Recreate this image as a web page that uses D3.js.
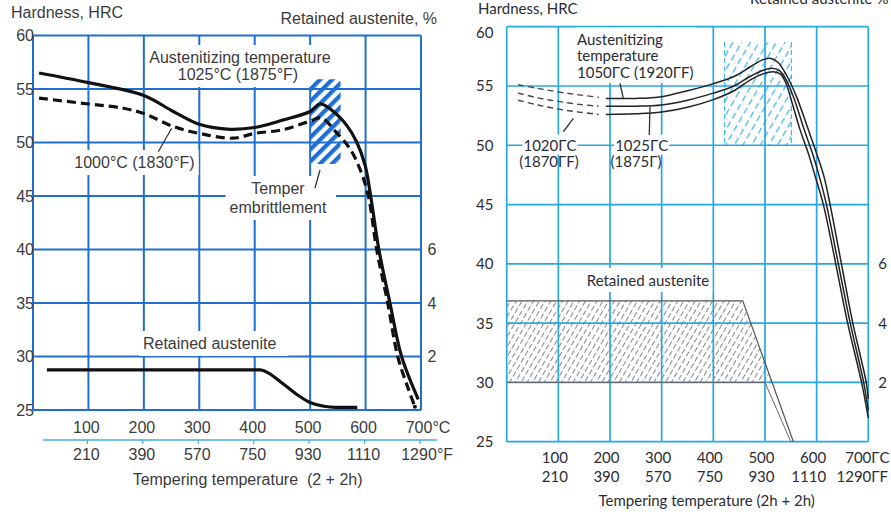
<!DOCTYPE html>
<html><head><meta charset="utf-8">
<script src="https://cdn.jsdelivr.net/npm/d3@7"></script>
<style>body{margin:0;background:#fff}svg{display:block}</style>
</head><body>
<svg id="c" width="891" height="515"></svg>
<script>
// ---------------- DATA ----------------
const tempTicksC = [100, 200, 300, 400, 500, 600, 700];
const tempTicksF = [210, 390, 570, 750, 930, 1110, 1290];
const gridTemps = [0, 100, 200, 300, 400, 500, 600, 700];
const hrcTicks = [25, 30, 35, 40, 45, 50, 55, 60];
const raTicks = [2, 4, 6];

// Left chart: hardness after austenitizing at 1025 °C (solid) and 1000 °C (dashed)
const left1025 = [[11,56.5],[100,55.6],[200,54.4],[253,52.9],[300,51.7],[350,51.25],[400,51.4],[451,52.1],[500,52.9],[518,53.6],[542,52.9],[566,51.6],[584,50.05],[599,47.9],[608,45.4],[624,40],[644,35],[665,30],[695,26.0]];
const left1000 = [[11,54.15],[100,53.6],[163,53.2],[200,52.7],[253,51.5],[300,50.85],[360,50.4],[400,50.85],[451,51.2],[500,52.0],[520,52.3],[548,50.9],[572,49.4],[590,47.5],[605,45],[620,40],[640,35],[658,30],[677,27],[689,25.3]];
const leftRetained = [[25,1.5],[100,1.5],[200,1.5],[300,1.5],[410,1.5],[425,1.38],[450,1.0],[478,0.55],[500,0.28],[525,0.14],[545,0.1],[585,0.1]];
const leftEmbrittle = {t0:500, t1:555, h0:48.0, h1:55.9};

// Right chart: hardness for three austenitizing temperatures
const right1050Dash = [[22,55.1],[60,54.8],[100,54.5],[140,54.25],[178,54.05]];
const right1025Dash = [[22,54.4],[60,54.0],[100,53.7],[140,53.45],[178,53.3]];
const right1020Dash = [[22,53.8],[60,53.4],[100,53.05],[140,52.8],[178,52.6]];
const right1050 = [[192,53.95],[250,53.95],[300,54.1],[350,54.6],[400,55.2],[440,55.8],[471,56.6],[495,57.2],[509,57.33],[525,57.0],[543,55.8],[561,54.1],[584,51.3],[600,49.3],[614,47.4],[626,45],[648,40],[670,35],[696,30],[700,28.6]];
const right1025 = [[192,53.3],[250,53.3],[300,53.4],[350,53.8],[400,54.4],[440,55.0],[471,55.8],[495,56.3],[513,56.5],[528,56.3],[540,55.6],[555,54.1],[576,51.3],[592,49.3],[605,47.4],[619,45],[642,40],[665,35],[691,30],[700,27.6]];
const right1020 = [[192,52.6],[250,52.65],[300,52.8],[350,53.2],[400,53.85],[440,54.6],[471,55.5],[495,56.0],[516,56.2],[530,56.0],[540,55.3],[549,54.1],[568,51.3],[584,49.3],[597,47.4],[613,45],[637,40],[660,35],[687,30],[700,27.0]];
const rightEmbrittle = {t0:422, t1:551, h0:50, h1:58.7};
const rightRetainedTop = [[0,4.75],[457,4.75],[555,0]];
const rightRetainedBottom = [[0,2],[500,2],[550,0]];

// ---------------- SETUP ----------------
const svg = d3.select('#c');
const FL = "'Liberation Sans', Arial, Helvetica, sans-serif";
const FR = "Lato, 'Open Sans', sans-serif";
const TCL = '#3b3b3b', TCR = '#2c2c34';
const blueL = '#1f6fd0', cyanR = '#27a8e0', axisCyan = '#3eaee6';

const xL = d3.scaleLinear([0,700],[33,421]);
const yL = d3.scaleLinear([25,60],[410,35.5]);
const raL = d3.scaleLinear([0,14],[410,35.5]);
const xR = d3.scaleLinear([0,700],[506.7,868.3]);
const yR = d3.scaleLinear([25,60],[441.7,26.7]);
const raR = d3.scaleLinear([0,14],[441.7,26.7]);

const defs = svg.append('defs');
const pL = defs.append('pattern').attr('id','hatchL').attr('patternUnits','userSpaceOnUse')
  .attr('width',8.5).attr('height',8.5).attr('patternTransform','rotate(45)');
pL.append('rect').attr('width',4.3).attr('height',8.5).attr('fill',blueL);
const pC = defs.append('pattern').attr('id','hatchC').attr('patternUnits','userSpaceOnUse')
  .attr('width',7.5).attr('height',10).attr('patternTransform','rotate(30)');
pC.append('line').attr('x1',3.5).attr('x2',3.5).attr('y1',0).attr('y2',10)
  .attr('stroke',cyanR).attr('stroke-width',1.1).attr('stroke-dasharray','6.5,3.5');
const pG = defs.append('pattern').attr('id','hatchG').attr('patternUnits','userSpaceOnUse')
  .attr('width',5).attr('height',8).attr('patternTransform','rotate(30)');
pG.append('line').attr('x1',2.5).attr('x2',2.5).attr('y1',0).attr('y2',8)
  .attr('stroke','#666').attr('stroke-width',0.8).attr('stroke-dasharray','5.5,2.5');

function txt(g, x, y, s, o = {}) {
  return g.append('text').attr('x', x).attr('y', y).text(s)
    .attr('font-family', o.ff || FL).attr('font-size', o.fs || 16)
    .attr('fill', o.fill || TCL).attr('text-anchor', o.anchor || 'start')
    .attr('font-weight', o.fw || 'normal');
}
function bgBox(layer, nodes, pad, extra = {}) {
  let x0 = 1e9, y0 = 1e9, x1 = -1e9, y1 = -1e9;
  nodes.forEach(n => { const b = n.node().getBBox(); x0 = Math.min(x0,b.x); y0 = Math.min(y0,b.y); x1 = Math.max(x1,b.x+b.width); y1 = Math.max(y1,b.y+b.height); });
  layer.append('rect').attr('x', x0 - pad - (extra.l||0)).attr('y', y0 - pad + (extra.t||0))
    .attr('width', x1 - x0 + 2*pad + (extra.l||0) + (extra.r||0)).attr('height', y1 - y0 + 2*pad - (extra.t||0) + (extra.b||0))
    .attr('fill', '#fff');
}

// ================= LEFT CHART =================
const gL = svg.append('g');
const gridL = gL.append('g'), bgL = gL.append('g'), markL = gL.append('g'), textL = gL.append('g');

gridL.selectAll('line.v').data(gridTemps).join('line')
  .attr('x1', d => xL(d)).attr('x2', d => xL(d)).attr('y1', yL(60)).attr('y2', yL(25))
  .attr('stroke', blueL).attr('stroke-width', 2);
gridL.selectAll('line.h').data(hrcTicks).join('line')
  .attr('x1', xL(0)).attr('x2', xL(700)).attr('y1', d => yL(d)).attr('y2', d => yL(d))
  .attr('stroke', blueL).attr('stroke-width', 2);

hrcTicks.forEach(h => txt(textL, xL(0)+1, yL(h)+5.7, h, {anchor:'end'}));
raTicks.forEach(r => txt(textL, 432, raL(r)+5.7, r, {anchor:'middle'}));

gL.append('line').attr('x1', 43).attr('x2', 437).attr('y1', 440).attr('y2', 440)
  .attr('stroke', axisCyan).attr('stroke-width', 1.6);
gL.selectAll('line.tk').data(tempTicksC).join('line')
  .attr('x1', d => xL(d)-1).attr('x2', d => xL(d)-1).attr('y1', 440).attr('y2', 444)
  .attr('stroke', axisCyan).attr('stroke-width', 1.2);
function tickRow(layer, vals, xs, y, unit, ff, fs, fill, mode) {
  vals.forEach((v, i) => {
    const last = i === vals.length - 1;
    if (mode === 'center') {
      const t = txt(layer, xs(i), y, v, {anchor:'middle', ff, fs, fill});
      if (last) { const b = t.node().getBBox(); txt(layer, b.x + b.width, y, unit, {ff, fs, fill}); }
    } else {
      const x = xs(i);
      txt(layer, x, y, v, {anchor:'end', ff, fs, fill});
      if (last) txt(layer, x, y, unit, {ff, fs, fill});
    }
  });
}
tickRow(textL, tempTicksC, i => xL(tempTicksC[i]) - 2, 432.7, '°C', FL, 16, TCL, 'center');
tickRow(textL, tempTicksF, i => xL(tempTicksC[i]) - 2, 460, '°F', FL, 16, TCL, 'center');
txt(textL, 247.6, 485, 'Tempering temperature  (2 + 2h)', {anchor:'middle'}).attr('xml:space','preserve').style('white-space','pre');

txt(textL, 11, 17.5, 'Hardness, HRC');
txt(textL, 437, 24, 'Retained austenite, %', {anchor:'end'});

const a1 = txt(textL, 240, 63, 'Austenitizing temperature', {anchor:'middle'});
const a2 = txt(textL, 238, 80, '1025°C (1875°F)', {anchor:'middle'});
bgBox(bgL, [a1, a2], 4);
const a3 = txt(textL, 134.5, 168, '1000°C (1830°F)', {anchor:'middle'});
bgBox(bgL, [a3], 4);
const a4 = txt(textL, 278, 194, 'Temper', {anchor:'middle'});
const a5 = txt(textL, 278, 213, 'embrittlement', {anchor:'middle'});
bgBox(bgL, [a4, a5], 4, {r:5});
const a6 = txt(textL, 209.7, 349, 'Retained austenite', {anchor:'middle'});
bgBox(bgL, [a6], 4, {r:8});

markL.append('rect').attr('x', xL(leftEmbrittle.t0)).attr('y', yL(leftEmbrittle.h1))
  .attr('width', xL(leftEmbrittle.t1) - xL(leftEmbrittle.t0)).attr('height', yL(leftEmbrittle.h0) - yL(leftEmbrittle.h1))
  .attr('rx', 4).attr('fill', 'url(#hatchL)');

const lineL = d3.line().x(d => xL(d[0])).y(d => yL(d[1])).curve(d3.curveCatmullRom.alpha(0.5));
const lineLra = d3.line().x(d => xL(d[0])).y(d => raL(d[1])).curve(d3.curveMonotoneX);
markL.append('path').attr('d', lineL(left1000)).attr('fill','none').attr('stroke','#111')
  .attr('stroke-width', 3.2).attr('stroke-dasharray', '9,5');
markL.append('circle').attr('cx', xL(left1000[left1000.length-1][0])).attr('cy', yL(left1000[left1000.length-1][1]))
  .attr('r', 2).attr('fill', '#111');
markL.append('path').attr('d', lineL(left1025)).attr('fill','none').attr('stroke','#111').attr('stroke-width', 3.2);
markL.append('path').attr('d', lineLra(leftRetained)).attr('fill','none').attr('stroke','#111').attr('stroke-width', 3.2);

const leaderL = [[[250.2,51.33],[226,49.14]], [[517.8,47.43],[508.8,45.75]]];
leaderL.forEach(s => markL.append('line').attr('x1', xL(s[0][0])).attr('y1', yL(s[0][1]))
  .attr('x2', xL(s[1][0])).attr('y2', yL(s[1][1])).attr('stroke','#333').attr('stroke-width',1.3));

// ================= RIGHT CHART =================
const gR = svg.append('g');
const hatchR = gR.append('g'), gridR = gR.append('g'), bgR = gR.append('g'), markR = gR.append('g'), textR = gR.append('g');

hatchR.append('rect').attr('x', xR(rightEmbrittle.t0)).attr('y', yR(rightEmbrittle.h1))
  .attr('width', xR(rightEmbrittle.t1) - xR(rightEmbrittle.t0)).attr('height', yR(rightEmbrittle.h0) - yR(rightEmbrittle.h1))
  .attr('fill', 'url(#hatchC)');
[rightEmbrittle.t0, rightEmbrittle.t1].forEach(t => hatchR.append('line')
  .attr('x1', xR(t)).attr('x2', xR(t)).attr('y1', yR(rightEmbrittle.h1)).attr('y2', yR(rightEmbrittle.h0))
  .attr('stroke', cyanR).attr('stroke-width', 1).attr('stroke-dasharray', '5,3'));

const tA = rightRetainedTop[1], tB = rightRetainedTop[2];
const raLevel = rightRetainedBottom[1][1];
const tCross = tA[0] + (tB[0]-tA[0]) * (tA[1]-raLevel)/(tA[1]-tB[1]);
const bandPoly = [rightRetainedTop[0], tA, [tCross, raLevel], rightRetainedBottom[0]];
hatchR.append('path').attr('d', d3.line().x(d => xR(d[0])).y(d => raR(d[1]))(bandPoly) + 'Z')
  .attr('fill', 'url(#hatchG)');

gridR.selectAll('line.v').data(gridTemps).join('line')
  .attr('x1', d => xR(d)).attr('x2', d => xR(d)).attr('y1', yR(60)).attr('y2', yR(25))
  .attr('stroke', cyanR).attr('stroke-width', 1.7);
gridR.selectAll('line.h').data(hrcTicks).join('line')
  .attr('x1', xR(0)).attr('x2', xR(700)).attr('y1', d => yR(d)).attr('y2', d => yR(d))
  .attr('stroke', cyanR).attr('stroke-width', 1.7);

const lineRra = d3.line().x(d => xR(d[0])).y(d => raR(d[1]));
markR.append('path').attr('d', lineRra(rightRetainedTop)).attr('fill','none').attr('stroke','#555').attr('stroke-width',1.2);
markR.append('path').attr('d', lineRra(rightRetainedBottom)).attr('fill','none').attr('stroke','#666').attr('stroke-width',1);

const lineR = d3.line().x(d => xR(d[0])).y(d => yR(d[1])).curve(d3.curveCatmullRom.alpha(0.5));
[right1050Dash, right1025Dash, right1020Dash].forEach(s => markR.append('path').attr('d', lineR(s))
  .attr('fill','none').attr('stroke','#444').attr('stroke-width',1.4).attr('stroke-dasharray','6,4'));
[right1050, right1025, right1020].forEach(s => markR.append('path').attr('d', lineR(s))
  .attr('fill','none').attr('stroke','#222').attr('stroke-width',1.5));

const leaderR = [[[129,52.27],[109.6,51.14]], [[277.4,53.25],[276,50.87]], [[219.3,55.23],[225.7,53.96]]];
leaderR.forEach(s => markR.append('line').attr('x1', xR(s[0][0])).attr('y1', yR(s[0][1]))
  .attr('x2', xR(s[1][0])).attr('y2', yR(s[1][1])).attr('stroke','#333').attr('stroke-width',1.3));

const o = {ff: FR, fs: 15, fill: TCR};
hrcTicks.forEach(h => txt(textR, 493.5, yR(h) + 5.4 + (h === 60 ? 6 : 0), h, o).attr('text-anchor','end'));
raTicks.forEach(r => txt(textR, 882.5, raR(r) + 5.4, r, o).attr('text-anchor','middle'));
tickRow(textR, tempTicksC, i => xR(tempTicksC[i]) + (i === 6 ? 3 : 9.5), 463.3, 'ΓC', FR, 15, TCR, 'end');
tickRow(textR, tempTicksF, i => xR(tempTicksC[i]) + (i === 6 ? 3 : 9.5), 481.7, 'ΓF', FR, 15, TCR, 'end');
txt(textR, 706.7, 506, 'Tempering temperature (2h + 2h)', o).attr('text-anchor','middle');
txt(textR, 478, 14, 'Hardness, HRC', o);
txt(textR, 750, 4, 'Retained austenite %', o);

const b1 = txt(textR, 577, 44.5, 'Austenitizing', o);
const b2 = txt(textR, 577, 61, 'temperature', o);
const b3 = txt(textR, 577, 78, '1050ΓC (1920ΓF)', o);
bgBox(bgR, [b1, b2, b3], 2);
const b4 = txt(textR, 550, 150.7, '1020ΓC', o).attr('text-anchor','middle');
bgBox(bgR, [b4], 1);
txt(textR, 549, 167, '(1870ΓF)', o).attr('text-anchor','middle');
const b5 = txt(textR, 641.7, 150.7, '1025ΓC', o).attr('text-anchor','middle');
bgBox(bgR, [b5], 1);
txt(textR, 636, 167, '(1875Γ)', o).attr('text-anchor','middle');
const b6 = txt(textR, 648, 286, 'Retained austenite', o).attr('text-anchor','middle');
bgBox(bgR, [b6], 3);
</script>
</body></html>
